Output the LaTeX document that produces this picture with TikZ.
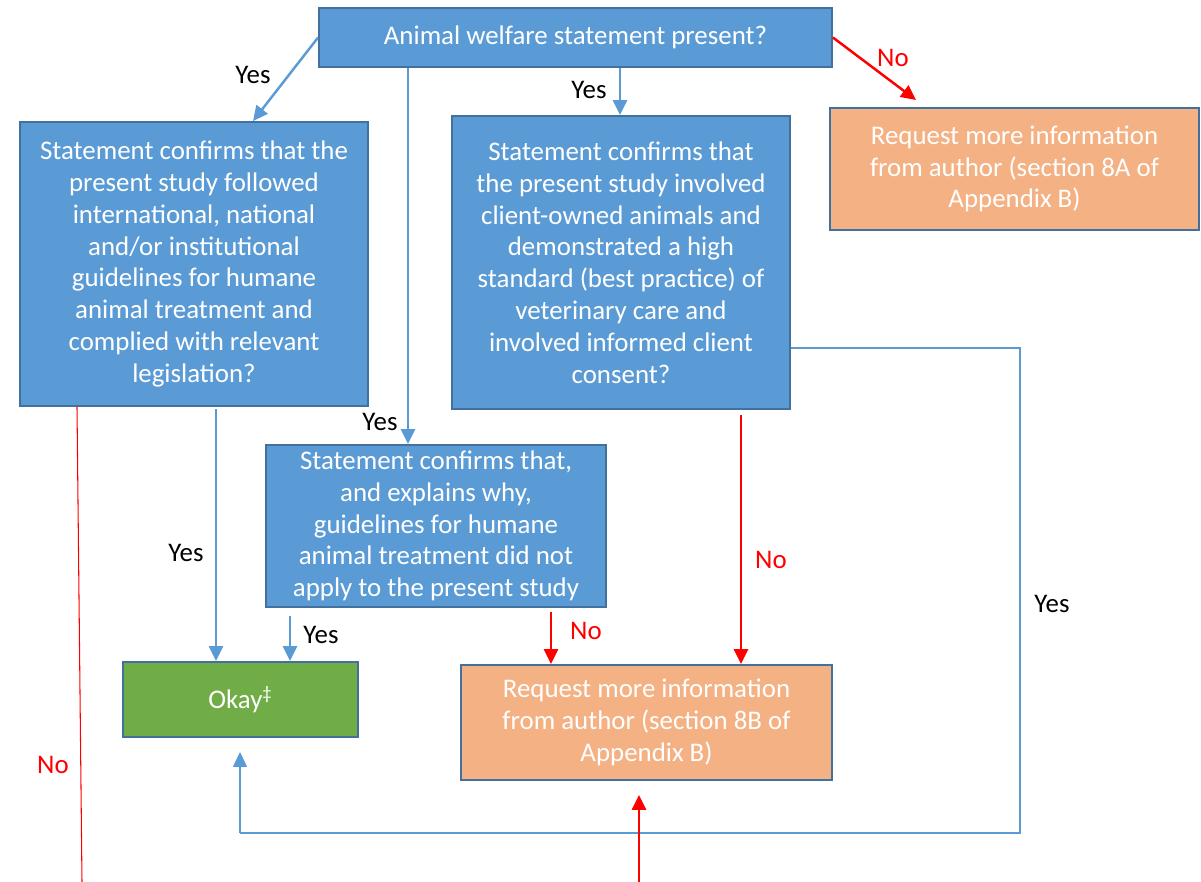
\documentclass[tikz,border=0pt]{standalone}
\usepackage{fontspec}
\setmainfont{Carlito}
\usetikzlibrary{arrows.meta}
\definecolor{boxblue}{HTML}{5B9BD5}
\definecolor{boxedge}{HTML}{41719C}
\definecolor{reqorange}{HTML}{F4B183}
\definecolor{okgreen}{HTML}{70AD47}
\tikzset{
  every node/.style={font={\fontsize{15.3}{18.1}\selectfont}},
  question/.style={
    rectangle,
    fill=boxblue,
    draw=boxedge, line width=1.1pt,
    text=white,
    align=center,
    inner sep=2pt},
  request/.style={question, fill=reqorange},
  okbox/.style={question, fill=okgreen},
  yesarrow/.style={draw=boxblue, line width=1.4pt, -{Triangle[width=8pt,length=8.5pt]}},
  noarrow/.style={draw=red, line width=1.4pt, -{Triangle[width=8pt,length=8.5pt]}},
  yesline/.style={draw=boxblue, line width=0.6pt},
  noline/.style={draw=red, line width=0.6pt},
  yeslabel/.style={text=black},
  nolabel/.style={text=red},
}
\begin{document}
\begin{tikzpicture}[x=0.02cm,y=-0.02cm]
  \useasboundingbox (0,0) rectangle (1201,882);
  % boxes
  \node[question, minimum width=10.26cm, minimum height=1.18cm] (welfare) at (575.5,37.5)
    {Animal welfare statement present?};
  \node[question, minimum width=6.96cm, minimum height=5.68cm] (guidelines) at (194,264)
    {Statement confirms that the\\present study followed\\international, national\\and/or institutional\\guidelines for humane\\animal treatment and\\complied with relevant\\legislation?};
  \node[question, minimum width=6.76cm, minimum height=5.86cm] (client) at (621,262.5)
    {Statement confirms that\\the present study involved\\client-owned animals and\\demonstrated a high\\standard (best practice) of\\veterinary care and\\involved informed client\\consent?};
  \node[request, minimum width=7.38cm, minimum height=2.44cm] (reqA) at (1014.5,169)
    {Request more information\\from author (section 8A of\\Appendix B)};
  \node[question, minimum width=6.8cm, minimum height=3.24cm] (notapply) at (436,526)
    {Statement confirms that,\\and explains why,\\guidelines for humane\\animal treatment did not\\apply to the present study};
  \node[okbox, minimum width=4.7cm, minimum height=1.5cm] (okay) at (240.5,699.5)
    {Okay\textsuperscript{\textdaggerdbl}};
  \node[request, minimum width=7.42cm, minimum height=2.3cm] (reqB) at (646.5,722.5)
    {Request more information\\from author (section 8B of\\Appendix B)};
  % connectors
  \draw[yesarrow] (welfare.west) -- (guidelines.north -| 253,0);
  \draw[yesarrow] (welfare.south -| 408,0) -- (notapply.north -| 408,0);
  \draw[yesarrow] (welfare.south -| 620,0) -- (client.north -| 620,0);
  \draw[noarrow] (welfare.east) -- (916,100);
  \draw[yesarrow] (216,409) -- (okay.north -| 216,0);
  \draw[yesarrow] (290,616) -- (okay.north -| 290,0);
  \draw[noarrow] (551,612) -- (reqB.north -| 551,0);
  \draw[noarrow] (741,415) -- (reqB.north -| 741,0);
  \coordinate (loopNE) at (1020,348);
  \coordinate (loopSE) at (1020,833);
  \coordinate (loopSW) at (240,833);
  \draw[yesline] (client.east |- loopNE) -- (loopNE) -- (loopSE) -- (loopSW);
  \draw[yesarrow, line width=0.6pt] (loopSW) -- (240,752);
  \coordinate (leftEnd) at (82,882);
  \draw[noline] (guidelines.south -| 77,0) -- (leftEnd);
  \coordinate (bottomIn) at (639,882);
  \draw[noarrow] (bottomIn) -- (639,795);
  % labels
  \node[yeslabel] (yesA) at (253,75) {Yes};
  \node[yeslabel] (yesB) at (589,90) {Yes};
  \node[yeslabel] (yesC) at (380,422) {Yes};
  \node[yeslabel] (yesD) at (186,553) {Yes};
  \node[yeslabel] (yesE) at (321,635) {Yes};
  \node[yeslabel] (yesF) at (1052,604) {Yes};
  \node[nolabel] (noA) at (893,58) {No};
  \node[nolabel] (noB) at (586,631) {No};
  \node[nolabel] (noC) at (771,560) {No};
  \node[nolabel] (noD) at (53,765) {No};
\end{tikzpicture}
\end{document}
